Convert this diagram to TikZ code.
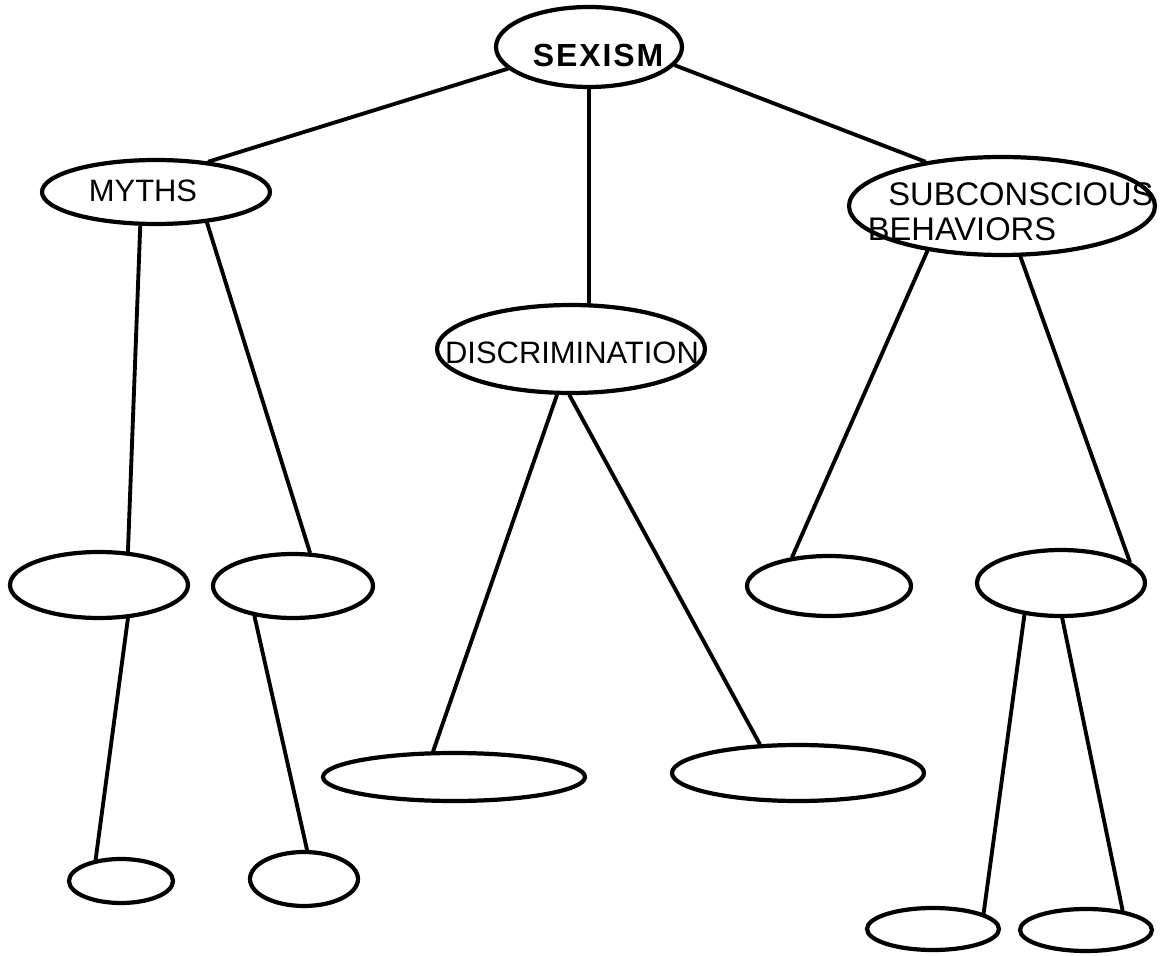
\documentclass[tikz,border=0pt]{standalone}
\usepackage{fontspec}
\setmainfont{Liberation Sans}
\usetikzlibrary{shapes.geometric}
\tikzset{
  oval/.style 2 args={ellipse, draw, line width=2.4pt, minimum width=#1cm, minimum height=#2cm, inner sep=0pt},
  conn/.style={line width=2.2pt, line cap=round},
  lbl/.style={inner sep=0pt, font=\fontsize{17.6pt}{20pt}\selectfont}
}
\begin{document}
\begin{tikzpicture}[x=0.02cm, y=-0.02cm]
\useasboundingbox (0,0) rectangle (1161,956);
% ovals
\node[oval={3.72}{1.60}] (sexism) at (589,47) {};
\node[oval={4.56}{1.28}] (myths) at (156,192) {};
\node[oval={6.12}{1.96}] (subc) at (1002,206) {};
\node[oval={5.36}{1.76}] (disc) at (571,349) {};
\node[oval={3.56}{1.32}] (e1) at (99,585) {};
\node[oval={3.20}{1.28}] (e2) at (293,586) {};
\node[oval={3.28}{1.20}] (e3) at (829,586) {};
\node[oval={3.36}{1.32}] (e4) at (1061,583) {};
\node[oval={5.24}{0.96}] (e5) at (454,777) {};
\node[oval={5.04}{1.12}] (e6) at (798,773) {};
\node[oval={2.08}{0.88}] (e7) at (121,881) {};
\node[oval={2.16}{1.08}] (e8) at (304,879) {};
\node[oval={2.64}{0.84}] (e9) at (933,929) {};
\node[oval={2.64}{0.84}] (e10) at (1086,930) {};
% labels
\node[lbl, font=\fontsize{18.2pt}{20pt}\selectfont\bfseries\addfontfeature{LetterSpace=6}] (sexismt) at (598,55) {SEXISM};
\node[lbl] (mythst) at (143,191) {MYTHS};
\node[lbl] (disct) at (572,353) {DISCRIMINATION};
\node[lbl, font=\fontsize{18.6pt}{20pt}\selectfont] (subct1) at (1021,194) {SUBCONSCIOUS};
\node[lbl, font=\fontsize{18.6pt}{20pt}\selectfont] (subct2) at (962,229) {BEHAVIORS};
% connectors
\draw[conn] (sexism.195) -- (myths.30);
\draw[conn] (sexism.south) -- (sexism.south |- disc.north);
\draw[conn] (sexism.348) -- (subc.150);
\draw[conn] (myths.245) -- (e1.49);
\draw[conn] (myths.329) -- (e2.63);
\draw[conn] (disc.253) -- (e5.129);
\draw[conn] (disc.268) -- (e6.143);
\draw[conn] (subc.211) -- (e3.142);
\draw[conn] (subc.290) -- (e4.17);
\draw[conn] (e1.311) -- (e7.140);
\draw[conn] (e2.218) -- (e8.84);
\draw[conn] (e4.221) -- (e9.17);
\draw[conn] (e4.272) -- (e10.28);
\end{tikzpicture}
\end{document}
